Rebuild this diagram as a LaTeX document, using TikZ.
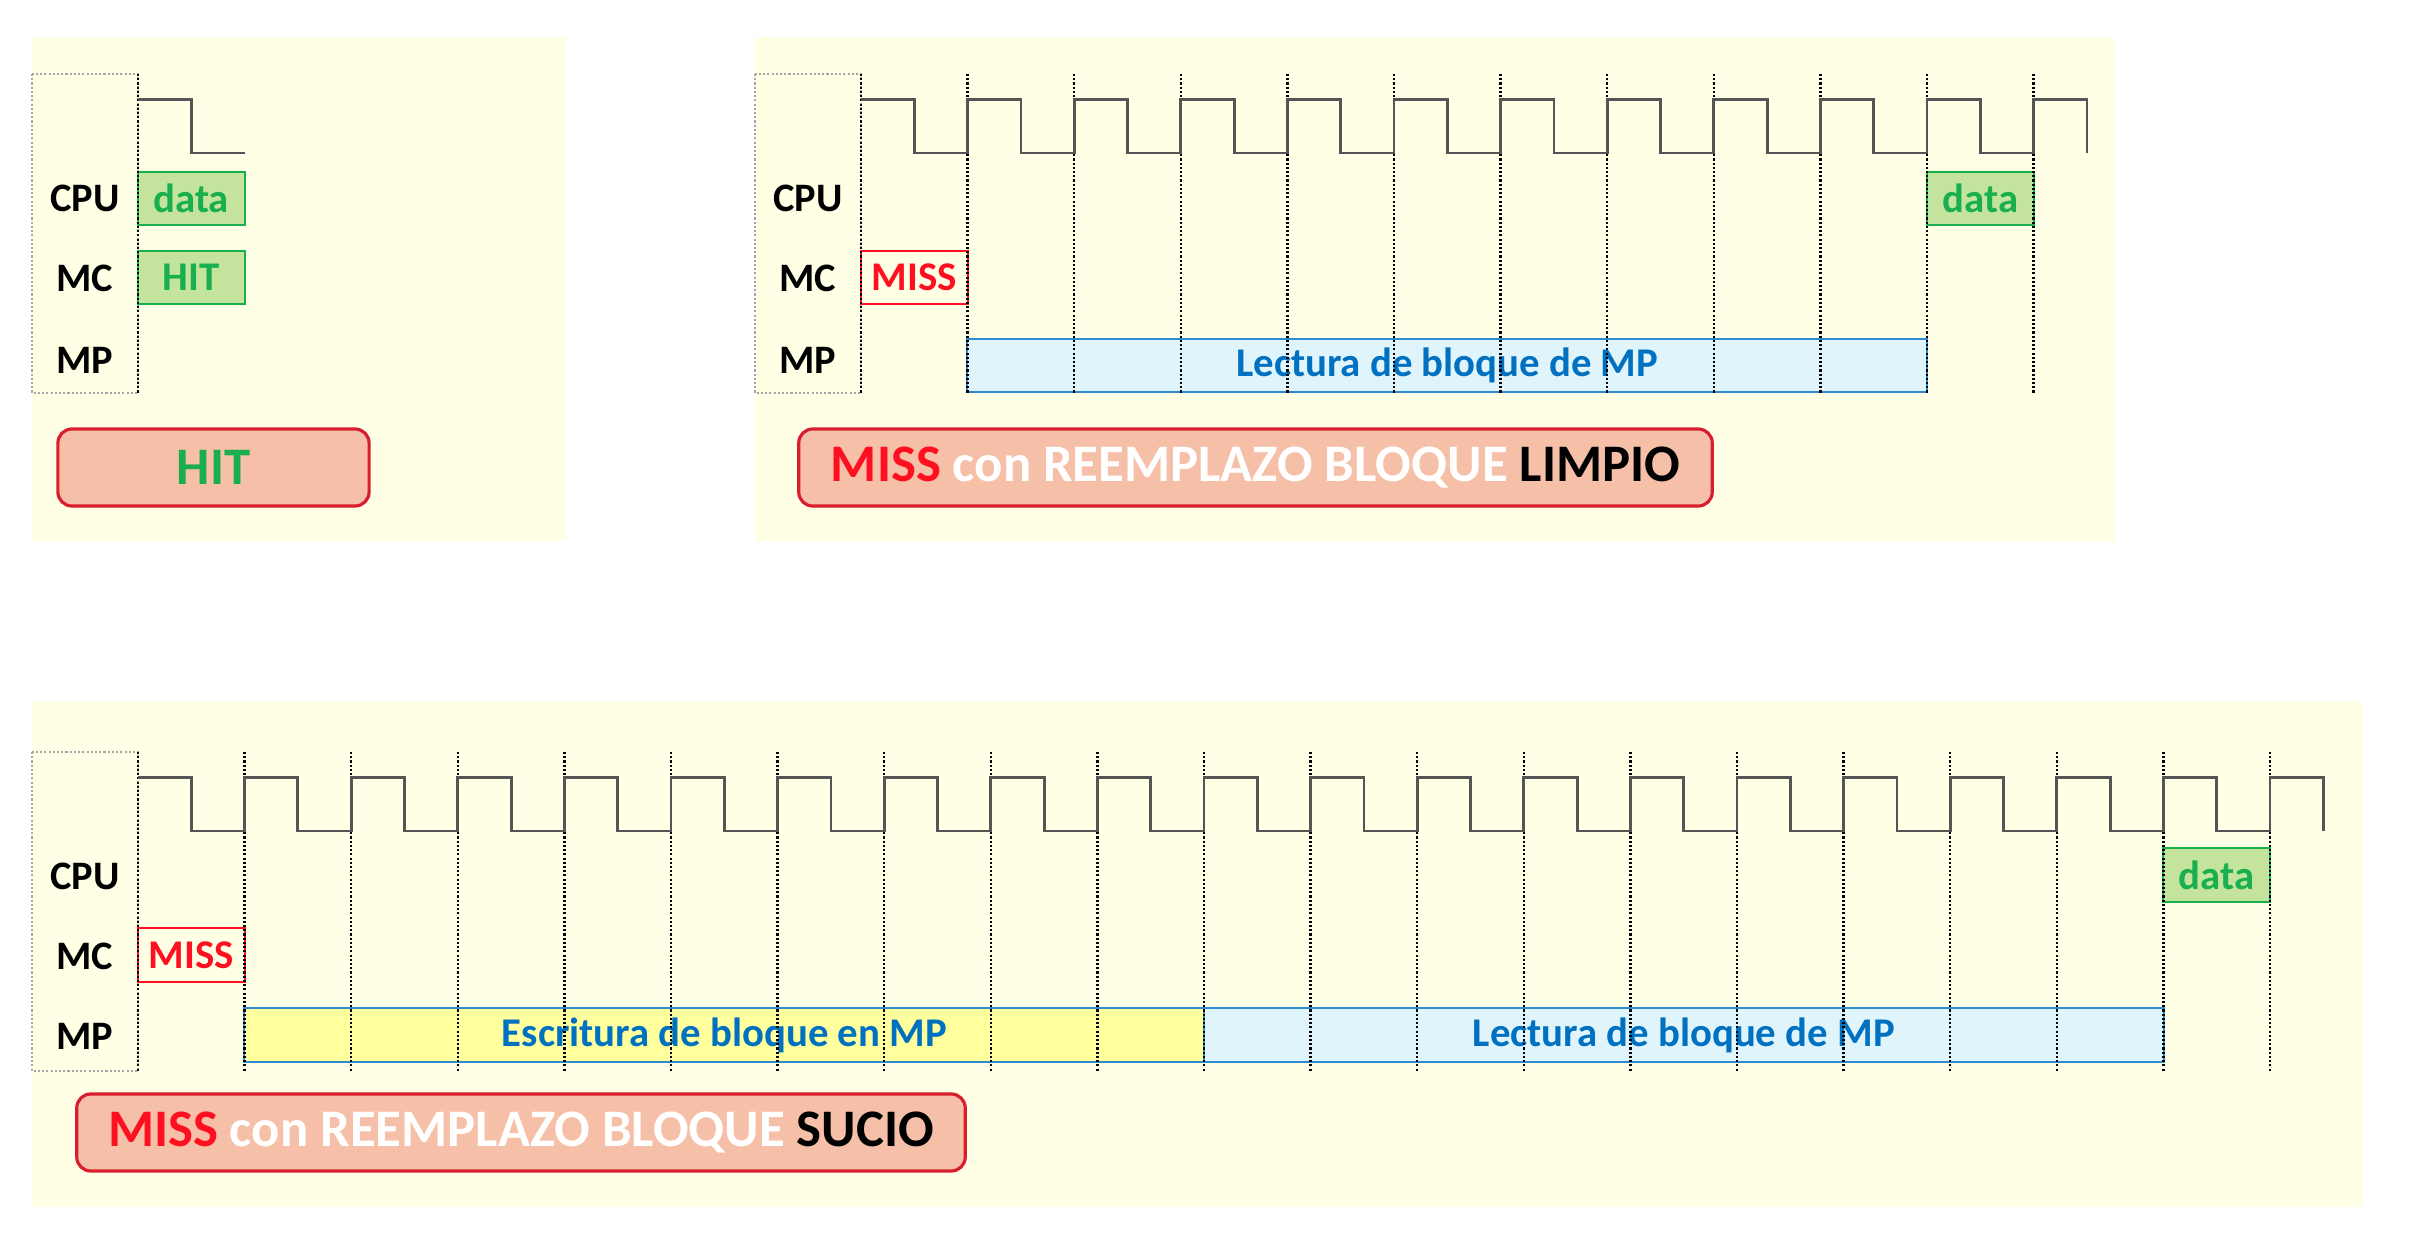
\documentclass[tikz,border=0pt]{standalone}
\usepackage{fontspec}
\setmainfont{Carlito}
\definecolor{panelbg}{RGB}{255,255,230}
\definecolor{gfill}{RGB}{196,228,158}
\definecolor{gline}{RGB}{26,175,78}
\definecolor{mred}{RGB}{255,16,32}
\definecolor{bfill}{RGB}{224,245,251}
\definecolor{bline}{RGB}{46,139,208}
\definecolor{btext}{RGB}{0,112,192}
\definecolor{yfill}{RGB}{255,255,158}
\definecolor{tfill}{RGB}{246,192,168}
\definecolor{tline}{RGB}{216,30,46}
\definecolor{clkgray}{RGB}{85,85,85}
\begin{document}
\begin{tikzpicture}[x=0.01cm,y=-0.01cm,
  panel/.style={fill=panelbg,draw=none},
  lbl/.style={font=\bfseries\fontsize{11.5}{13}\selectfont,text=black,inner sep=0},
  cell/.style={draw,inner sep=0,outer sep=0,minimum width=1.066cm,minimum height=0.535cm,line width=0.6pt,font=\bfseries\fontsize{11.6}{13}\selectfont},
  greencell/.style={cell,fill=gfill,draw=gline,text=gline},
  misscell/.style={cell,draw=mred,text=mred},
  bluecell/.style={cell,fill=bfill,draw=bline,text=btext,minimum width=9.594cm},
  yelcell/.style={cell,fill=yfill,draw=bline,text=btext,minimum width=9.594cm},
  titlebox/.style={draw=tline,fill=tfill,rounded corners=0.14cm,line width=0.9pt,minimum height=0.77cm,inner sep=0,font=\bfseries\fontsize{15}{17}\selectfont},
  clk/.style={draw=clkgray,line width=0.8pt},
  tick/.style={draw=black,dash pattern=on 0.6pt off 0.6pt,line width=0.65pt},
  lblbox/.style={draw=black!35,dash pattern=on 0.6pt off 0.6pt,line width=0.5pt}
]
\useasboundingbox (0,0) rectangle (2410,1240);
% panels
\fill[panel] (32,37) rectangle (566,541);
\fill[panel] (755,37) rectangle (2115,541);
\fill[panel] (32,701) rectangle (2362,1207);

% ---------- Panel 1: HIT ----------
\draw[lblbox] (32,74) rectangle (138,393);
\node[lbl] (cpu1) at (85,198) {CPU};
\node[lbl] (mc1) at (85,278) {MC};
\node[lbl] (mp1) at (85,360) {MP};
\node[greencell] (data1) at (191.3,198.5) {data};
\node[greencell] (hit1) at (191.3,277.5) {HIT};
\draw[tick] (138,74) -- (138,393);
\draw[clk] (138,99.5) -- ++(53.3,0) -- ++(0,53.5) -- ++(53.3,0);
\node[titlebox,minimum width=3.11cm] (title1) at (213.5,467.5) {\textcolor{gline}{HIT}};

% ---------- Panel 2: MISS limpio ----------
\draw[lblbox] (755,74) rectangle (861,393);
\node[lbl] (cpu2) at (808,198) {CPU};
\node[lbl] (mc2) at (808,278) {MC};
\node[lbl] (mp2) at (808,360) {MP};
\node[misscell] (miss2) at (914.3,277.5) {MISS};
\node[bluecell] (read2) at (1447.3,365.5) {Lectura de bloque de MP};
\node[greencell] (data2) at (1980.3,198.5) {data};
\foreach \k in {0,...,11} \draw[tick] (861+\k*106.6,74) -- (861+\k*106.6,393);
\draw[clk] (861,99.5) foreach \k in {0,...,10} { -- ++(53.3,0) -- ++(0,53.5) -- ++(53.3,0) -- ++(0,-53.5) } -- ++(53.3,0) -- ++(0,53.5);
\node[titlebox,minimum width=9.13cm] (title2) at (1255.5,467.5) {\textcolor{mred}{MISS} \textcolor{white}{con REEMPLAZO BLOQUE} \textcolor{black}{LIMPIO}};

% ---------- Panel 3: MISS sucio ----------
\draw[lblbox] (32,752) rectangle (138,1071);
\node[lbl] (cpu3) at (85,876) {CPU};
\node[lbl] (mc3) at (85,956) {MC};
\node[lbl] (mp3) at (85,1036) {MP};
\node[misscell] (miss3) at (191.3,955) {MISS};
\node[yelcell] (write3) at (724.3,1035) {Escritura de bloque en MP};
\node[bluecell] (read3) at (1683.7,1035) {Lectura de bloque de MP};
\node[greencell] (data3) at (2216.7,875) {data};
\foreach \k in {0,...,20} \draw[tick] (138+\k*106.6,752) -- (138+\k*106.6,1071);
\draw[clk] (138,777.5) foreach \k in {0,...,19} { -- ++(53.3,0) -- ++(0,53.5) -- ++(53.3,0) -- ++(0,-53.5) } -- ++(53.3,0) -- ++(0,53.5);
\node[titlebox,minimum width=8.88cm] (title3) at (521,1132.5) {\textcolor{mred}{MISS} \textcolor{white}{con REEMPLAZO BLOQUE} \textcolor{black}{SUCIO}};
\end{tikzpicture}
\end{document}
